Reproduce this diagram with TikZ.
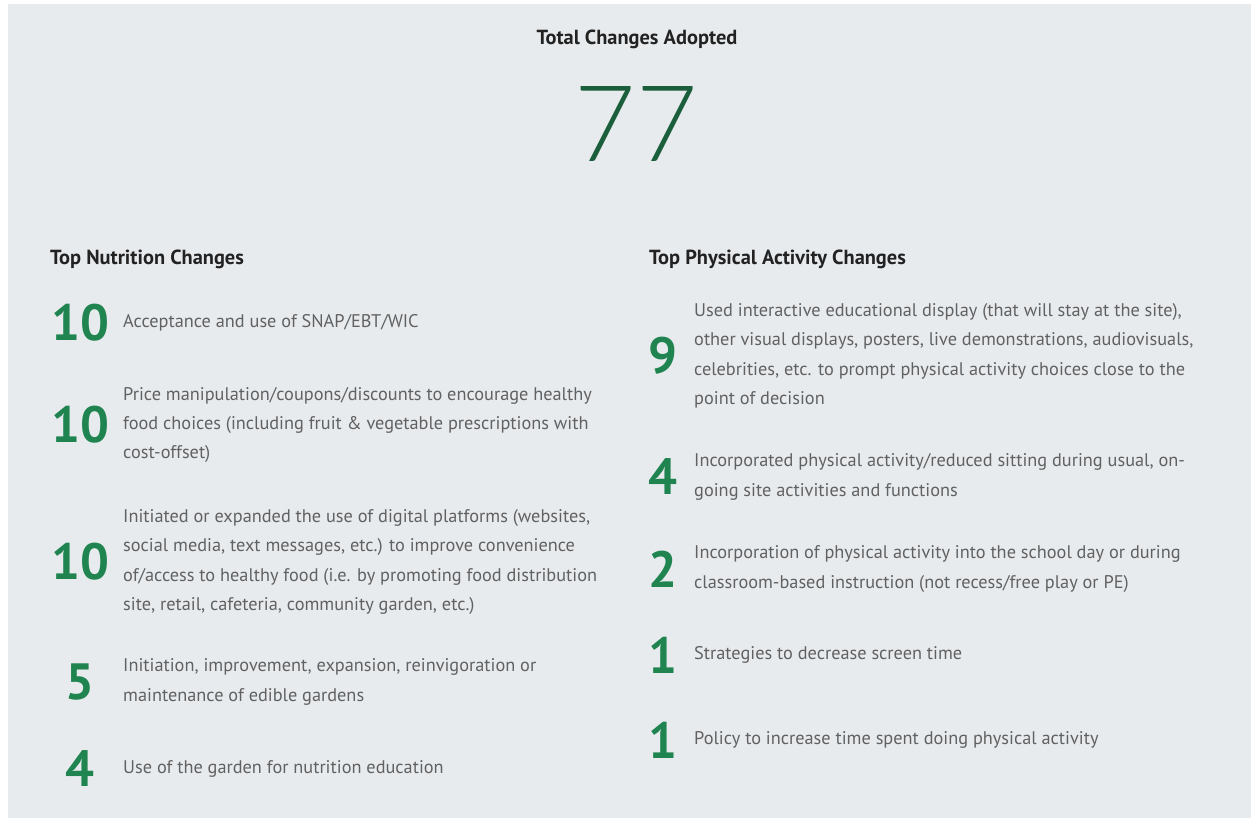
\documentclass[tikz,border=0pt]{standalone}
\usepackage{fontspec}
\setmainfont{PT Sans}
\IfFontExistsTF{Lato Light}{\newfontfamily\duennfont{Lato Light}}{%
  \IfFontExistsTF{Fira Sans Light}{\newfontfamily\duennfont{Fira Sans Light}}{\newfontfamily\duennfont{PT Sans}}}
\definecolor{hintergrund}{HTML}{E8EBEE}
\definecolor{gruen}{HTML}{1F8450}
\definecolor{dunkelgruen}{HTML}{1B5E3B}
\definecolor{textgrau}{HTML}{616161}
\definecolor{kopfgrau}{HTML}{222222}
\tikzset{
  kopf/.style={text=kopfgrau, font=\fontsize{20.4}{24}\selectfont\bfseries, inner sep=0},
  zahl/.style={text=gruen, font=\fontsize{51}{51}\selectfont\bfseries, inner sep=0},
  eintrag/.style={text=textgrau, font=\fontsize{18.3}{29.4}\selectfont, align=left, anchor=west, inner sep=0}
}
\begin{document}
\begin{tikzpicture}[x=1pt, y=-1pt]
    % Hintergrund
    \useasboundingbox (0,0) rectangle (1251,824);
    \fill[hintergrund] (8,4) rectangle (1251,818);
    % Gesamtzahl
    \node[kopf] (titel) at (637,39) {Total Changes Adopted};
    \node[text=dunkelgruen, font=\fontsize{106}{106}\selectfont\duennfont, inner sep=0] (summe) at (636,124) {77};
    % Ueberschriften
    \node[kopf, anchor=west] (ernaehrung) at (50,259) {Top Nutrition Changes};
    \node[kopf, anchor=west] (bewegung) at (649,259) {Top Physical Activity Changes};
    % Ernaehrung
    \node[eintrag] (e1) at (123,323) {Acceptance and use of SNAP/EBT/WIC};
    \node[eintrag] (e2) at (123,425) {Price manipulation/coupons/discounts to encourage healthy\\food choices (including fruit \& vegetable prescriptions with\\cost-offset)};
    \node[eintrag] (e3) at (123,562) {Initiated or expanded the use of digital platforms (websites,\\social media, text messages, etc.) to improve convenience\\of/access to healthy food (i.e. by promoting food distribution\\site, retail, cafeteria, community garden, etc.)};
    \node[eintrag] (e4) at (123,682) {Initiation, improvement, expansion, reinvigoration or\\maintenance of edible gardens};
    \node[eintrag] (e5) at (123,769) {Use of the garden for nutrition education};
    \node[zahl] (z1) at (e1.west -| 80,0) {10};
    \node[zahl] (z2) at (e2.west -| 80,0) {10};
    \node[zahl] (z3) at (e3.west -| 80,0) {10};
    \node[zahl] (z4) at (e4.west -| 80,0) {5};
    \node[zahl] (z5) at (e5.west -| 80,0) {4};
    % Bewegung
    \node[eintrag] (b1) at (694,356) {Used interactive educational display (that will stay at the site),\\other visual displays, posters, live demonstrations, audiovisuals,\\celebrities, etc. to prompt physical activity choices close to the\\point of decision};
    \node[eintrag] (b2) at (694,477) {Incorporated physical activity/reduced sitting during usual, on-\\going site activities and functions};
    \node[eintrag] (b3) at (694,569) {Incorporation of physical activity into the school day or during\\classroom-based instruction (not recess/free play or PE)};
    \node[eintrag] (b4) at (694,655) {Strategies to decrease screen time};
    \node[eintrag] (b5) at (694,740) {Policy to increase time spent doing physical activity};
    \node[zahl] (y1) at (b1.west -| 663,0) {9};
    \node[zahl] (y2) at (b2.west -| 663,0) {4};
    \node[zahl] (y3) at (b3.west -| 663,0) {2};
    \node[zahl] (y4) at (b4.west -| 663,0) {1};
    \node[zahl] (y5) at (b5.west -| 663,0) {1};
\end{tikzpicture}
\end{document}
